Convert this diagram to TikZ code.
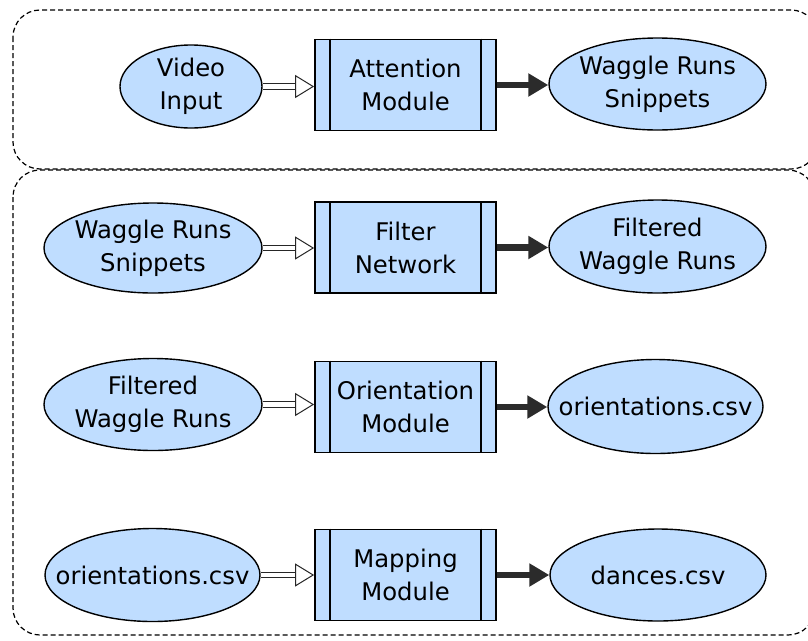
\documentclass[tikz,border=0pt]{standalone}
\usepackage{fontspec}
\setmainfont{DejaVu Sans}
\usetikzlibrary{shapes.geometric,arrows.meta}
\definecolor{nodefill}{RGB}{191,221,255}
\definecolor{darkarrow}{RGB}{43,43,43}
\tikzset{
  databox/.style={ellipse, draw=black, line width=1.4pt, fill=nodefill,
    inner xsep=-60pt, inner ysep=-30pt, align=center,
    font=\fontsize{24.3}{33}\selectfont},
  procbox/.style={rectangle, draw=black, line width=1.8pt, fill=nodefill,
    minimum width=181pt, minimum height=91pt, inner sep=0pt, align=center,
    font=\fontsize{24.3}{33}\selectfont},
  stage/.style={draw=black, line width=1.2pt, dash pattern=on 5pt off 3pt,
    rounded corners=27pt},
  inshaft/.style={draw=black!85, line width=1pt, double=white,
    double distance=4.2pt},
  inhead/.style={draw=black!85, line width=1pt,
    -{Triangle[fill=white, length=19pt, width=23pt]}},
  outarrow/.style={draw=darkarrow, line width=6.5pt,
    -{Triangle[length=20pt, width=22pt]}}
}
\newcommand{\procsides}[1]{%
  \draw[line width=1.3pt] ([xshift=16pt]#1.north west) -- ([xshift=16pt]#1.south west);
  \draw[line width=1.3pt] ([xshift=-16pt]#1.north east) -- ([xshift=-16pt]#1.south east);}
% hollow input arrow from data node #1 to process node #2
\newcommand{\inputarrow}[2]{%
  \draw[inshaft] (#1.east) -- ([xshift=-18pt]#1.east -| #2.west);
  \draw[inhead] ([xshift=-19pt]#1.east -| #2.west) -- (#1.east -| #2.west);}
\begin{document}
\begin{tikzpicture}[x=1pt,y=-1pt]
\clip (0,0) rectangle (808,640);
\fill[white] (0,0) rectangle (808,640);

% stage frames
\draw[stage] (13,10) rectangle (818,169);
\draw[stage] (13,170) rectangle (815,635);

% stage 1: attention
\node[databox, minimum width=142pt, minimum height=83pt] (vid) at (191,86.5) {Video\\Input};
\node[procbox] (att) at (405.5,85) {Attention\\Module};
\node[databox, minimum width=217pt, minimum height=92pt] (wr1) at (657.5,84) {Waggle Runs\\Snippets};

% stage 2: filter
\node[databox, minimum width=218pt, minimum height=90pt] (wr2) at (153,248) {Waggle Runs\\Snippets};
\node[procbox] (fil) at (405.5,247.5) {Filter\\Network};
\node[databox, minimum width=217pt, minimum height=93pt] (fw1) at (657.5,246.5) {Filtered\\Waggle Runs};

% stage 3: orientation
\node[databox, minimum width=218pt, minimum height=92pt] (fw2) at (153,404.5) {Filtered\\Waggle Runs};
\node[procbox] (ori) at (405.5,407) {Orientation\\Module};
\node[databox, minimum width=215pt, minimum height=94pt] (oc1) at (655.5,406.5) {orientations.csv};

% stage 4: mapping
\node[databox, minimum width=215pt, minimum height=93pt] (oc2) at (152.5,575) {orientations.csv};
\node[procbox] (map) at (405.5,575) {Mapping\\Module};
\node[databox, minimum width=216pt, minimum height=92pt] (dan) at (658,575) {dances.csv};

\procsides{att}
\procsides{fil}
\procsides{ori}
\procsides{map}

% connectors
\inputarrow{vid}{att}
\draw[outarrow] (att.east) -- (att.east -| wr1.west);
\inputarrow{wr2}{fil}
\draw[outarrow] (fil.east) -- (fil.east -| fw1.west);
\inputarrow{fw2}{ori}
\draw[outarrow] (ori.east) -- (ori.east -| oc1.west);
\inputarrow{oc2}{map}
\draw[outarrow] (map.east) -- (map.east -| dan.west);
\end{tikzpicture}
\end{document}
